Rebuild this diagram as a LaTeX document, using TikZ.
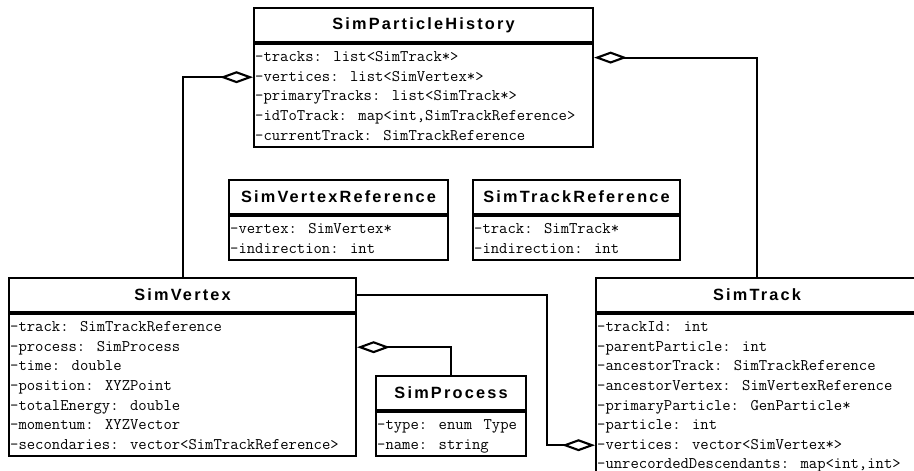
\documentclass[tikz,border=0pt]{standalone}
\usepackage{fontspec}
\usepackage{tikz}
\usetikzlibrary{calc, arrows.meta, positioning}
\newfontfamily\headfont[LetterSpace=13.5]{Liberation Sans}
\newcommand\attrfont{\ttfamily\frenchspacing\fontsize{16.2}{18}\selectfont\spaceskip=11.5pt\relax}

\begin{document}
\begin{tikzpicture}[x=1pt, y=-1pt,
    classhead/.style={draw, line width=2.1pt, anchor=north west, inner sep=0pt,
        minimum height=34pt, font=\headfont\bfseries\fontsize{16.3}{18}\selectfont},
    classbody/.style={draw, line width=2.1pt, anchor=north, inner sep=0pt},
    attr/.style={anchor=west, inner sep=0pt, text height=8pt, text depth=0pt,
        font=\attrfont},
    agg/.style={line width=2.1pt, -{Diamond[open, length=33pt, width=12pt]}}]

    % Picture frame (the SimTrack box runs off the right and bottom)
    \clip (0,0) rectangle (914,471);

    % 1. SimParticleHistory
    \node[classhead, minimum width=339pt] (sph) at (253,7) {SimParticleHistory};
    \node[classbody, minimum width=339pt, minimum height=103pt] (sphBody) at (sph.south) {};
    \foreach \txt [count=\i] in {-tracks: list<SimTrack*>, -vertices: list<SimVertex*>,
        -primaryTracks: list<SimTrack*>, {-idToTrack: map<int,SimTrackReference>},
        -currentTrack: SimTrackReference}
        \node[attr] (sph\i) at ($(sphBody.north west)+(2,14.5+19.6*\i-19.6)$) {\txt};

    % 2. SimVertexReference
    \node[classhead, minimum width=219pt] (svr) at (228,179) {SimVertexReference};
    \node[classbody, minimum width=219pt, minimum height=44pt] (svrBody) at (svr.south) {};
    \foreach \txt [count=\i] in {-vertex: SimVertex*, -indirection: int}
        \node[attr] (svr\i) at ($(svrBody.north west)+(2,14.5+19.6*\i-19.6)$) {\txt};

    % 3. SimTrackReference
    \node[classhead, minimum width=207pt] (str) at (472,179) {SimTrackReference};
    \node[classbody, minimum width=207pt, minimum height=44pt] (strBody) at (str.south) {};
    \foreach \txt [count=\i] in {-track: SimTrack*, -indirection: int}
        \node[attr] (str\i) at ($(strBody.north west)+(2,14.5+19.6*\i-19.6)$) {\txt};

    % 4. SimVertex
    \node[classhead, minimum width=347pt] (sv) at (8,277) {SimVertex};
    \node[classbody, minimum width=347pt, minimum height=142pt] (svBody) at (sv.south) {};
    \foreach \txt [count=\i] in {-track: SimTrackReference, -process: SimProcess,
        -time: double, -position: XYZPoint, -totalEnergy: double,
        -momentum: XYZVector, -secondaries: vector<SimTrackReference>}
        \node[attr] (sv\i) at ($(svBody.north west)+(2,14.5+19.6*\i-19.6)$) {\txt};

    % 5. SimProcess
    \node[classhead, minimum width=150pt] (sp) at (375,375) {SimProcess};
    \node[classbody, minimum width=150pt, minimum height=44pt] (spBody) at (sp.south) {};
    \foreach \txt [count=\i] in {-type: enum Type, -name: string}
        \node[attr] (sp\i) at ($(spBody.north west)+(2,14.5+19.6*\i-19.6)$) {\txt};

    % 6. SimTrack
    \node[classhead, minimum width=322pt] (st) at (595,277) {SimTrack};
    \node[classbody, minimum width=322pt, minimum height=181pt] (stBody) at (st.south) {};
    \foreach \txt [count=\i] in {-trackId: int, -parentParticle: int,
        -ancestorTrack: SimTrackReference, -ancestorVertex: SimVertexReference,
        -primaryParticle: GenParticle*, -particle: int,
        -vertices: vector<SimVertex*>, {-unrecordedDescendants: map<int,int>}}
        \node[attr] (st\i) at ($(stBody.north west)+(2,14.5+19.6*\i-19.6)$) {\txt};

    % 7. Aggregations
    \coordinate (jog) at (547,0);
    \draw[agg] (sv.north) |- (sph2.west -| sph.west);
    \draw[agg] (st.north) |- (sph1.west -| sph.east);
    \draw[agg] (sp.north) |- (sv2.west -| sv.east);
    \draw[agg] (sv.east) -- (sv.east -| jog) |- (st7.west -| st.west);
\end{tikzpicture}
\end{document}
